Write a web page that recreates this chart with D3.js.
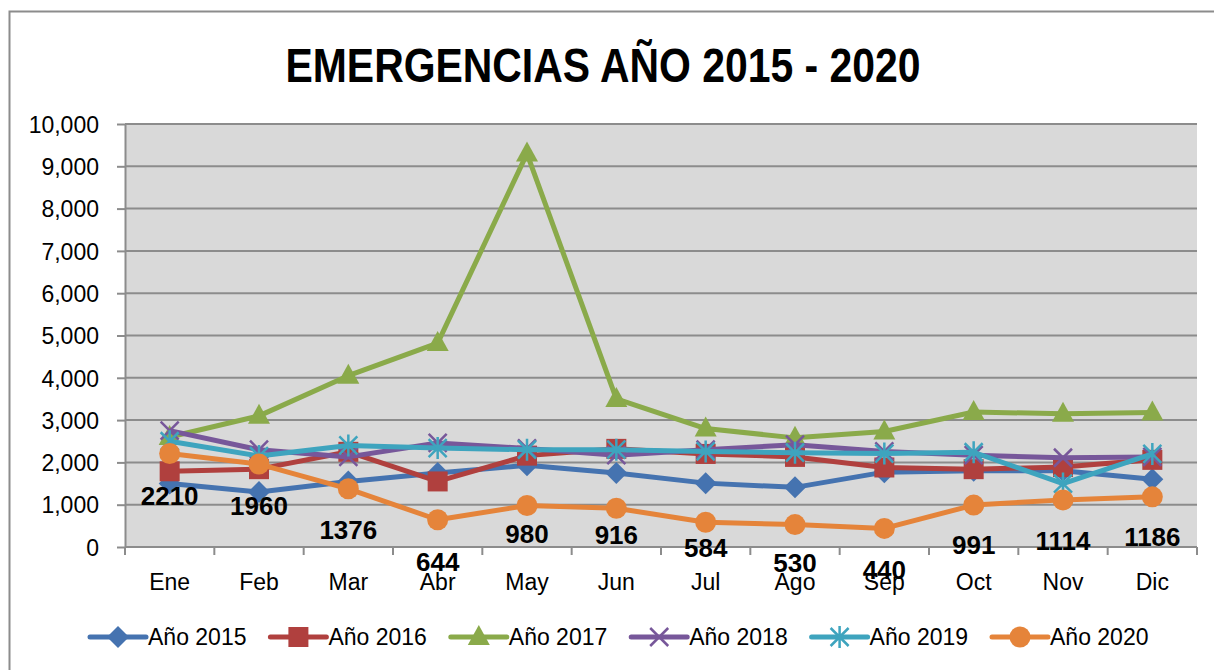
<!DOCTYPE html>
<meta charset="utf-8">
<style>
    body {
        margin: 0;
        padding: 0;
        background: #fff;
    }
    text {
        font-family: "Liberation Sans", Arial, sans-serif;
    }
    .grid line {
        stroke: #8c8c8c;
        stroke-width: 2;
    }
    .axis path, .axis line {
        stroke: #8c8c8c;
        stroke-width: 2;
    }
    .axis text {
        font-size: 23px;
        fill: #000;
    }
</style>

<body>

<script src="https://d3js.org/d3.v7.min.js"></script>

<script>

var months = ["Ene", "Feb", "Mar", "Abr", "May", "Jun", "Jul", "Ago", "Sep", "Oct", "Nov", "Dic"];
var yTicks = [0, 1000, 2000, 3000, 4000, 5000, 6000, 7000, 8000, 9000, 10000];

var v2015 = [1500, 1300, 1550, 1750, 1930, 1750, 1510, 1410, 1770, 1800, 1800, 1600];
var v2016 = [1790, 1840, 2250, 1550, 2160, 2320, 2200, 2130, 1880, 1840, 1890, 2060];
var v2017 = [2600, 3100, 4050, 4820, 9300, 3500, 2800, 2580, 2730, 3190, 3150, 3180];
var v2018 = [2750, 2300, 2130, 2460, 2330, 2170, 2300, 2420, 2260, 2170, 2110, 2130];
var v2019 = [2500, 2150, 2400, 2340, 2300, 2300, 2260, 2230, 2210, 2240, 1500, 2200];
var v2020 = [2210, 1960, 1376, 644, 980, 916, 584, 530, 440, 991, 1114, 1186];

var seriesNames = ["Año 2015", "Año 2016", "Año 2017", "Año 2018", "Año 2019", "Año 2020"];
var seriesValues = [v2015, v2016, v2017, v2018, v2019, v2020];
var seriesColors = ["#4573b0", "#b0403e", "#8aaa4a", "#77579a", "#3ea4be", "#e5843a"];
var seriesMarkers = ["diamond", "square", "triangle", "x", "star", "circle"];

var W = 1214, H = 670;
var plotLeft = 125, plotRight = 1197, plotTop = 124, plotBottom = 547;
// how far below its point each 2020 label sits (labels were nudged by hand)
var labelGap = [51, 51, 50, 51, 37, 36, 35, 47, 51, 49, 50, 49];

var svg = d3.select("body").append("svg")
    .attr("width", W)
    .attr("height", H);

// chart frame
svg.append("rect")
    .attr("x", 9.5).attr("y", 11.5)
    .attr("width", 1400).attr("height", 1000)
    .attr("fill", "none")
    .attr("stroke", "#8c8c8c")
    .attr("stroke-width", 2);

svg.append("text")
    .attr("x", 603).attr("y", 82)
    .attr("text-anchor", "middle")
    .attr("font-weight", "bold")
    .attr("font-size", 49)
    .attr("textLength", 635)
    .attr("lengthAdjust", "spacingAndGlyphs")
    .text("EMERGENCIAS AÑO 2015 - 2020");

var x = d3.scaleBand()
    .domain(months)
    .range([plotLeft, plotRight]);

var y = d3.scaleLinear()
    .domain([0, 10000])
    .range([plotBottom, plotTop]);

svg.append("rect")
    .attr("x", plotLeft).attr("y", plotTop)
    .attr("width", plotRight - plotLeft).attr("height", plotBottom - plotTop)
    .attr("fill", "#d9d9d9");

svg.append("g")
    .attr("class", "grid")
    .selectAll("line")
    .data(yTicks.filter(d => d > 0))
    .join("line")
    .attr("x1", plotLeft).attr("x2", plotRight)
    .attr("y1", d => y(d)).attr("y2", d => y(d));

var yAxis = svg.append("g")
    .attr("class", "axis")
    .attr("transform", "translate(" + plotLeft + ",0)")
    .call(d3.axisLeft(y).tickValues(yTicks).tickSize(8).tickPadding(18)
        .tickFormat(d3.format(",")).tickSizeOuter(0));
yAxis.selectAll("text").attr("dy", "0.36em");

// x axis with ticks between categories
var xAxis = svg.append("g")
    .attr("class", "axis")
    .attr("transform", "translate(0," + plotBottom + ")");
xAxis.append("line")
    .attr("x1", plotLeft).attr("x2", plotRight);
xAxis.selectAll(".tk")
    .data(d3.range(months.length + 1))
    .join("line")
    .attr("class", "tk")
    .attr("x1", i => plotLeft + i * x.step())
    .attr("x2", i => plotLeft + i * x.step())
    .attr("y1", 0).attr("y2", 8);
xAxis.selectAll(".lb")
    .data(months)
    .join("text")
    .attr("class", "lb")
    .attr("x", d => x(d) + x.bandwidth() / 2)
    .attr("y", 43)
    .attr("text-anchor", "middle")
    .text(d => d);

function drawMarker(g, type, color) {
    if (type === "diamond") {
        g.append("path").attr("d", "M0,-11L11,0L0,11L-11,0Z").attr("fill", color);
    } else if (type === "square") {
        g.append("rect").attr("x", -10).attr("y", -10).attr("width", 20).attr("height", 20).attr("fill", color);
    } else if (type === "triangle") {
        g.append("path").attr("d", "M0,-12L11,8L-11,8Z").attr("fill", color);
    } else if (type === "circle") {
        g.append("circle").attr("r", 10.5).attr("fill", color);
    } else if (type === "x") {
        g.append("path").attr("d", "M-9,-9L9,9M-9,9L9,-9")
            .attr("stroke", color).attr("stroke-width", 2.5).attr("fill", "none");
    } else if (type === "star") {
        g.append("path").attr("d", "M-9,-9L9,9M-9,9L9,-9M0,-11L0,11")
            .attr("stroke", color).attr("stroke-width", 2.5).attr("fill", "none");
    }
}

var line = d3.line()
    .x((d, i) => x(months[i]) + x.bandwidth() / 2)
    .y(d => y(d));

seriesValues.forEach((vals, s) => {
    var g = svg.append("g");
    g.append("path")
        .attr("d", line(vals))
        .attr("fill", "none")
        .attr("stroke", seriesColors[s])
        .attr("stroke-width", 5)
        .attr("stroke-linejoin", "round");
    vals.forEach((v, i) => {
        var m = g.append("g")
            .attr("transform", "translate(" + (x(months[i]) + x.bandwidth() / 2) + "," + y(v) + ")");
        drawMarker(m, seriesMarkers[s], seriesColors[s]);
    });
});

// labels for 2020
svg.append("g")
    .selectAll("text")
    .data(v2020)
    .join("text")
    .attr("x", (d, i) => x(months[i]) + x.bandwidth() / 2)
    .attr("y", (d, i) => y(d) + labelGap[i])
    .attr("text-anchor", "middle")
    .attr("font-weight", "bold")
    .attr("font-size", 26)
    .text(d => d);

// legend
var legend = svg.append("g");
seriesNames.forEach((name, s) => {
    var lx = 90 + s * 180.4;
    var item = legend.append("g").attr("transform", "translate(" + lx + ",637)");
    item.append("line")
        .attr("x1", 0).attr("x2", 56)
        .attr("stroke", seriesColors[s])
        .attr("stroke-width", 5)
        .attr("stroke-linecap", "round");
    var m = item.append("g").attr("transform", "translate(28,0)");
    drawMarker(m, seriesMarkers[s], seriesColors[s]);
    item.append("text")
        .attr("x", 58).attr("y", 0)
        .attr("dy", "0.36em")
        .attr("font-size", 23)
        .text(name);
});

</script>
